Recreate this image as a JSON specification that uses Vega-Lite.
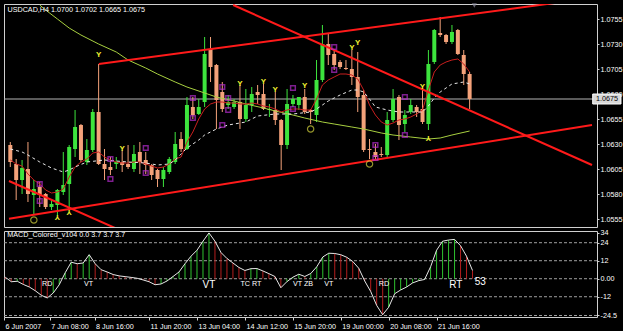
{
  "$schema": "https://vega.github.io/schema/vega-lite/v6.json",
  "background": "#000000",
  "padding": {"left": 2, "top": 2, "right": 0, "bottom": 3},
  "bounds": "flush",
  "spacing": 4,
  "config": {
    "font": "Liberation Sans",
    "view": {"stroke": "#d0d0d0", "strokeWidth": 1},
    "axis": {"labelFont": "Liberation Sans", "labelFontSize": 7.2, "labelColor": "#ffffff", "tickColor": "#d0d0d0", "domain": false, "grid": false, "title": null},
    "axisRight": {"tickSize": 2, "labelPadding": 1},
    "axisBottom": {"tickSize": 3, "labelPadding": 2}
  },
  "datasets": {
    "one": [{"k": 1}],
    "candles": [
      {"bar":0,"o":1.0629,"h":1.0632,"l":1.0607,"c":1.0612},
      {"bar":1,"o":1.0610,"h":1.0615,"l":1.0574,"c":1.0594},
      {"bar":2,"o":1.0594,"h":1.0614,"l":1.0580,"c":1.0606},
      {"bar":3,"o":1.0605,"h":1.0632,"l":1.0572,"c":1.0580},
      {"bar":4,"o":1.0579,"h":1.0594,"l":1.0559,"c":1.0585},
      {"bar":5,"o":1.0587,"h":1.0592,"l":1.0567,"c":1.0579},
      {"bar":6,"o":1.0580,"h":1.0581,"l":1.0565,"c":1.0567},
      {"bar":7,"o":1.0567,"h":1.0575,"l":1.0564,"c":1.0570},
      {"bar":8,"o":1.0569,"h":1.0585,"l":1.0559,"c":1.0584},
      {"bar":9,"o":1.0582,"h":1.0622,"l":1.0579,"c":1.0589},
      {"bar":10,"o":1.0590,"h":1.0629,"l":1.0565,"c":1.0627},
      {"bar":11,"o":1.0625,"h":1.0664,"l":1.0617,"c":1.0647},
      {"bar":12,"o":1.0649,"h":1.0650,"l":1.0612,"c":1.0614},
      {"bar":13,"o":1.0612,"h":1.0635,"l":1.0609,"c":1.0624},
      {"bar":14,"o":1.0624,"h":1.0665,"l":1.0622,"c":1.0662},
      {"bar":15,"o":1.0662,"h":1.0710,"l":1.0609,"c":1.0610},
      {"bar":16,"o":1.0610,"h":1.0625,"l":1.0594,"c":1.0605},
      {"bar":17,"o":1.0607,"h":1.0617,"l":1.0599,"c":1.0604},
      {"bar":18,"o":1.0610,"h":1.0617,"l":1.0605,"c":1.0612},
      {"bar":19,"o":1.0612,"h":1.0624,"l":1.0602,"c":1.0609},
      {"bar":20,"o":1.0610,"h":1.0629,"l":1.0605,"c":1.0607},
      {"bar":21,"o":1.0605,"h":1.0629,"l":1.0602,"c":1.0620},
      {"bar":22,"o":1.0622,"h":1.0632,"l":1.0600,"c":1.0612},
      {"bar":23,"o":1.0614,"h":1.0622,"l":1.0600,"c":1.0609},
      {"bar":24,"o":1.0609,"h":1.0610,"l":1.0594,"c":1.0599},
      {"bar":25,"o":1.0604,"h":1.0605,"l":1.0587,"c":1.0595},
      {"bar":26,"o":1.0595,"h":1.0607,"l":1.0587,"c":1.0604},
      {"bar":27,"o":1.0602,"h":1.0617,"l":1.0600,"c":1.0615},
      {"bar":28,"o":1.0612,"h":1.0642,"l":1.0610,"c":1.0630},
      {"bar":29,"o":1.0635,"h":1.0642,"l":1.0622,"c":1.0625},
      {"bar":30,"o":1.0625,"h":1.0677,"l":1.0624,"c":1.0669},
      {"bar":31,"o":1.0667,"h":1.0677,"l":1.0655,"c":1.0659},
      {"bar":32,"o":1.0660,"h":1.0675,"l":1.0659,"c":1.0667},
      {"bar":33,"o":1.0672,"h":1.0737,"l":1.0667,"c":1.0720},
      {"bar":34,"o":1.0725,"h":1.0737,"l":1.0692,"c":1.0707},
      {"bar":35,"o":1.0709,"h":1.0710,"l":1.0645,"c":1.0674},
      {"bar":36,"o":1.0682,"h":1.0692,"l":1.0662,"c":1.0665},
      {"bar":37,"o":1.0669,"h":1.0679,"l":1.0665,"c":1.0672},
      {"bar":38,"o":1.0667,"h":1.0675,"l":1.0665,"c":1.0672},
      {"bar":39,"o":1.0672,"h":1.0689,"l":1.0645,"c":1.0655},
      {"bar":40,"o":1.0655,"h":1.0685,"l":1.0652,"c":1.0669},
      {"bar":41,"o":1.0669,"h":1.0687,"l":1.0662,"c":1.0680},
      {"bar":42,"o":1.0682,"h":1.0689,"l":1.0670,"c":1.0679},
      {"bar":43,"o":1.0680,"h":1.0690,"l":1.0664,"c":1.0665},
      {"bar":44,"o":1.0664,"h":1.0670,"l":1.0657,"c":1.0665},
      {"bar":45,"o":1.0664,"h":1.0682,"l":1.0649,"c":1.0654},
      {"bar":46,"o":1.0654,"h":1.0655,"l":1.0604,"c":1.0629},
      {"bar":47,"o":1.0629,"h":1.0685,"l":1.0625,"c":1.0670},
      {"bar":48,"o":1.0670,"h":1.0679,"l":1.0667,"c":1.0675},
      {"bar":49,"o":1.0669,"h":1.0677,"l":1.0664,"c":1.0677},
      {"bar":50,"o":1.0677,"h":1.0685,"l":1.0660,"c":1.0662},
      {"bar":51,"o":1.0664,"h":1.0665,"l":1.0650,"c":1.0662},
      {"bar":52,"o":1.0659,"h":1.0714,"l":1.0652,"c":1.0694},
      {"bar":53,"o":1.0694,"h":1.0749,"l":1.0692,"c":1.0730},
      {"bar":54,"o":1.0730,"h":1.0740,"l":1.0709,"c":1.0719},
      {"bar":55,"o":1.0720,"h":1.0724,"l":1.0704,"c":1.0709},
      {"bar":56,"o":1.0712,"h":1.0714,"l":1.0705,"c":1.0707},
      {"bar":57,"o":1.0706,"h":1.0714,"l":1.0704,"c":1.0705},
      {"bar":58,"o":1.0705,"h":1.0724,"l":1.0689,"c":1.0697},
      {"bar":59,"o":1.0697,"h":1.0722,"l":1.0662,"c":1.0677},
      {"bar":60,"o":1.0679,"h":1.0684,"l":1.0622,"c":1.0624},
      {"bar":61,"o":1.0625,"h":1.0635,"l":1.0615,"c":1.0624},
      {"bar":62,"o":1.0622,"h":1.0630,"l":1.0615,"c":1.0617},
      {"bar":63,"o":1.0620,"h":1.0627,"l":1.0617,"c":1.0619},
      {"bar":64,"o":1.0619,"h":1.0662,"l":1.0617,"c":1.0654},
      {"bar":65,"o":1.0654,"h":1.0685,"l":1.0652,"c":1.0675},
      {"bar":66,"o":1.0677,"h":1.0679,"l":1.0634,"c":1.0649},
      {"bar":67,"o":1.0650,"h":1.0664,"l":1.0642,"c":1.0659},
      {"bar":68,"o":1.0662,"h":1.0675,"l":1.0660,"c":1.0669},
      {"bar":69,"o":1.0667,"h":1.0669,"l":1.0657,"c":1.0662},
      {"bar":70,"o":1.0665,"h":1.0685,"l":1.0650,"c":1.0652},
      {"bar":71,"o":1.0650,"h":1.0724,"l":1.0644,"c":1.0710},
      {"bar":72,"o":1.0712,"h":1.0745,"l":1.0710,"c":1.0744},
      {"bar":73,"o":1.0741,"h":1.0757,"l":1.0737,"c":1.0739},
      {"bar":74,"o":1.0739,"h":1.0740,"l":1.0730,"c":1.0732},
      {"bar":75,"o":1.0732,"h":1.0749,"l":1.0730,"c":1.0742},
      {"bar":76,"o":1.0744,"h":1.0745,"l":1.0719,"c":1.0720},
      {"bar":77,"o":1.0719,"h":1.0724,"l":1.0689,"c":1.0700},
      {"bar":78,"o":1.0700,"h":1.0702,"l":1.0665,"c":1.0675}
    ],
    "maSlow": [
      {"bar":5,"price":1.0769},{"bar":6,"price":1.0764},{"bar":8,"price":1.0755},{"bar":10,"price":1.0746},
      {"bar":12,"price":1.0739},{"bar":15,"price":1.0730},{"bar":18,"price":1.0722},{"bar":20,"price":1.0714},
      {"bar":23,"price":1.0706},{"bar":25,"price":1.0700},{"bar":28,"price":1.0692},{"bar":30,"price":1.0687},
      {"bar":33,"price":1.0681},{"bar":35,"price":1.0677},{"bar":38,"price":1.0673},{"bar":40,"price":1.0670},
      {"bar":43,"price":1.0666},{"bar":45,"price":1.0663},{"bar":48,"price":1.0659},{"bar":50,"price":1.0656},
      {"bar":53,"price":1.0652},{"bar":55,"price":1.0650},{"bar":58,"price":1.0647},{"bar":60,"price":1.0645},
      {"bar":63,"price":1.0641},{"bar":65,"price":1.0639},{"bar":68,"price":1.0637},{"bar":71,"price":1.0635},
      {"bar":73,"price":1.0636},{"bar":75,"price":1.0639},{"bar":78,"price":1.0643}
    ],
    "maFast": [
      {"bar":0,"price":1.0614},{"bar":1,"price":1.0610},{"bar":2,"price":1.0608},{"bar":3,"price":1.0600},
      {"bar":4,"price":1.0594},{"bar":5,"price":1.0590},{"bar":6,"price":1.0584},{"bar":7,"price":1.0581},
      {"bar":8,"price":1.0582},{"bar":9,"price":1.0585},{"bar":10,"price":1.0597},{"bar":11,"price":1.0607},
      {"bar":12,"price":1.0612},{"bar":13,"price":1.0615},{"bar":14,"price":1.0621},{"bar":15,"price":1.0622},
      {"bar":16,"price":1.0617},{"bar":17,"price":1.0614},{"bar":18,"price":1.0612},{"bar":19,"price":1.0611},
      {"bar":20,"price":1.0611},{"bar":21,"price":1.0612},{"bar":22,"price":1.0612},{"bar":23,"price":1.0610},
      {"bar":24,"price":1.0608},{"bar":25,"price":1.0606},{"bar":26,"price":1.0607},{"bar":27,"price":1.0610},
      {"bar":28,"price":1.0615},{"bar":29,"price":1.0617},{"bar":30,"price":1.0632},{"bar":31,"price":1.0642},
      {"bar":32,"price":1.0655},{"bar":33,"price":1.0665},{"bar":34,"price":1.0670},{"bar":35,"price":1.0672},
      {"bar":36,"price":1.0672},{"bar":37,"price":1.0671},{"bar":38,"price":1.0671},{"bar":39,"price":1.0670},
      {"bar":40,"price":1.0670},{"bar":41,"price":1.0671},{"bar":42,"price":1.0670},{"bar":43,"price":1.0668},
      {"bar":44,"price":1.0667},{"bar":45,"price":1.0665},{"bar":46,"price":1.0662},{"bar":47,"price":1.0664},
      {"bar":48,"price":1.0665},{"bar":49,"price":1.0665},{"bar":50,"price":1.0664},{"bar":51,"price":1.0664},
      {"bar":52,"price":1.0675},{"bar":53,"price":1.0689},{"bar":54,"price":1.0694},{"bar":55,"price":1.0697},
      {"bar":56,"price":1.0700},{"bar":57,"price":1.0700},{"bar":58,"price":1.0699},{"bar":59,"price":1.0695},
      {"bar":60,"price":1.0684},{"bar":61,"price":1.0669},{"bar":62,"price":1.0659},{"bar":63,"price":1.0652},
      {"bar":64,"price":1.0649},{"bar":65,"price":1.0651},{"bar":66,"price":1.0654},{"bar":67,"price":1.0655},
      {"bar":68,"price":1.0657},{"bar":69,"price":1.0660},{"bar":70,"price":1.0664},{"bar":71,"price":1.0684},
      {"bar":72,"price":1.0702},{"bar":73,"price":1.0709},{"bar":74,"price":1.0712},{"bar":75,"price":1.0714},
      {"bar":76,"price":1.0715},{"bar":77,"price":1.0710},{"bar":78,"price":1.0702}
    ],
    "maMid": [
      {"bar":0,"price":1.0625},{"bar":2,"price":1.0622},{"bar":3,"price":1.0619},{"bar":5,"price":1.0612},
      {"bar":7,"price":1.0606},{"bar":8,"price":1.0604},{"bar":9,"price":1.0602},{"bar":10,"price":1.0604},
      {"bar":11,"price":1.0607},{"bar":13,"price":1.0612},{"bar":16,"price":1.0614},{"bar":20,"price":1.0612},
      {"bar":23,"price":1.0611},{"bar":25,"price":1.0609},{"bar":27,"price":1.0610},{"bar":28,"price":1.0614},
      {"bar":29,"price":1.0620},{"bar":30,"price":1.0626},{"bar":31,"price":1.0630},{"bar":32,"price":1.0634},
      {"bar":33,"price":1.0639},{"bar":34,"price":1.0642},{"bar":35,"price":1.0645},{"bar":37,"price":1.0649},
      {"bar":40,"price":1.0652},{"bar":42,"price":1.0658},{"bar":45,"price":1.0660},{"bar":48,"price":1.0660},
      {"bar":51,"price":1.0662},{"bar":52,"price":1.0665},{"bar":53,"price":1.0669},{"bar":54,"price":1.0673},
      {"bar":55,"price":1.0676},{"bar":56,"price":1.0679},{"bar":58,"price":1.0684},{"bar":59,"price":1.0684},
      {"bar":60,"price":1.0682},{"bar":61,"price":1.0675},{"bar":62,"price":1.0667},{"bar":64,"price":1.0664},
      {"bar":66,"price":1.0662},{"bar":70,"price":1.0662},{"bar":71,"price":1.0668},{"bar":72,"price":1.0676},
      {"bar":73,"price":1.0682},{"bar":74,"price":1.0686},{"bar":75,"price":1.0690},{"bar":76,"price":1.0691},
      {"bar":77,"price":1.0692},{"bar":78,"price":1.0690}
    ],
    "trendlines": [
      {"id":"upper","bar":15.04,"price":1.0710},{"id":"upper","bar":98.78,"price":1.0776},
      {"id":"lower","bar":-0.22,"price":1.05553},{"id":"lower","bar":98.78,"price":1.0649},
      {"id":"down","bar":37.84,"price":1.0769},{"id":"down","bar":98.78,"price":1.0609},
      {"id":"downLeft","bar":-0.22,"price":1.0593},{"id":"downLeft","bar":17.8,"price":1.0546}
    ],
    "upFractals": [
      {"bar":15,"price":1.0719},{"bar":19,"price":1.0625},{"bar":39,"price":1.0690},{"bar":43,"price":1.0692},
      {"bar":45,"price":1.0684},{"bar":50,"price":1.0688},{"bar":58,"price":1.0726},{"bar":59,"price":1.0731},
      {"bar":70,"price":1.0687}
    ],
    "downFractals": [
      {"bar":8,"price":1.0557},{"bar":10,"price":1.0562},{"bar":71,"price":1.0636}
    ],
    "circles": [
      {"bar":4,"price":1.0554},{"bar":51,"price":1.0645},{"bar":61,"price":1.0610}
    ],
    "squares": [
      {"bar":5,"price":1.0590},{"bar":5,"price":1.0573},{"bar":17,"price":1.0615},{"bar":17,"price":1.0595},
      {"bar":23,"price":1.0626},{"bar":23,"price":1.0601},{"bar":31,"price":1.0676},{"bar":31,"price":1.0656},
      {"bar":36,"price":1.0687},{"bar":36,"price":1.0649},{"bar":37,"price":1.0676},{"bar":37,"price":1.0664},
      {"bar":48,"price":1.0686},{"bar":48,"price":1.0665},{"bar":55,"price":1.0727},{"bar":55,"price":1.0704},
      {"bar":62,"price":1.0629},{"bar":62,"price":1.0616},{"bar":67,"price":1.0677},{"bar":67,"price":1.0639}
    ],
    "macd": [
      {"bar":0,"v":1,"t":"down"},{"bar":1,"v":-2,"t":"down"},{"bar":2,"v":-1.7,"t":"up"},{"bar":3,"v":-3.8,"t":"down"},
      {"bar":4,"v":-5.5,"t":"down"},{"bar":5,"v":-8,"t":"down"},{"bar":6,"v":-11,"t":"down"},{"bar":7,"v":-12.8,"t":"down"},
      {"bar":8,"v":-9.5,"t":"up"},{"bar":9,"v":-4,"t":"up"},{"bar":10,"v":4,"t":"up"},{"bar":11,"v":11,"t":"up"},
      {"bar":12,"v":10,"t":"down"},{"bar":13,"v":10.5,"t":"up"},{"bar":14,"v":16,"t":"up"},{"bar":15,"v":10,"t":"down"},
      {"bar":16,"v":6,"t":"down"},{"bar":17,"v":4.5,"t":"down"},{"bar":18,"v":2.8,"t":"down"},{"bar":19,"v":1.9,"t":"down"},
      {"bar":20,"v":1.4,"t":"down"},{"bar":21,"v":0.9,"t":"down"},{"bar":22,"v":0.3,"t":"down"},{"bar":23,"v":-0.8,"t":"down"},
      {"bar":24,"v":-2,"t":"down"},{"bar":25,"v":-4,"t":"down"},{"bar":26,"v":-3.5,"t":"up"},{"bar":27,"v":-1.5,"t":"up"},
      {"bar":28,"v":1.5,"t":"up"},{"bar":29,"v":4.5,"t":"up"},{"bar":30,"v":10,"t":"up"},{"bar":31,"v":15,"t":"up"},
      {"bar":32,"v":19,"t":"up"},{"bar":33,"v":25,"t":"up"},{"bar":34,"v":30.5,"t":"up"},{"bar":35,"v":25,"t":"down"},
      {"bar":36,"v":17.5,"t":"down"},{"bar":37,"v":13.5,"t":"down"},{"bar":38,"v":10.5,"t":"down"},{"bar":39,"v":7.5,"t":"down"},
      {"bar":40,"v":5.5,"t":"down"},{"bar":41,"v":6.7,"t":"up"},{"bar":42,"v":6.8,"t":"up"},{"bar":43,"v":5.2,"t":"down"},
      {"bar":44,"v":3.4,"t":"down"},{"bar":45,"v":1.5,"t":"down"},{"bar":46,"v":-6,"t":"down"},{"bar":47,"v":-2,"t":"up"},
      {"bar":48,"v":1,"t":"up"},{"bar":49,"v":3,"t":"up"},{"bar":50,"v":1.5,"t":"down"},{"bar":51,"v":3.5,"t":"up"},
      {"bar":52,"v":8,"t":"up"},{"bar":53,"v":14.5,"t":"up"},{"bar":54,"v":17,"t":"up"},{"bar":55,"v":16.8,"t":"down"},
      {"bar":56,"v":16,"t":"down"},{"bar":57,"v":14.3,"t":"down"},{"bar":58,"v":11.5,"t":"down"},{"bar":59,"v":7,"t":"down"},
      {"bar":60,"v":-1.5,"t":"down"},{"bar":61,"v":-8.5,"t":"down"},{"bar":62,"v":-17.8,"t":"down"},{"bar":63,"v":-24,"t":"down"},
      {"bar":64,"v":-19,"t":"up"},{"bar":65,"v":-10,"t":"up"},{"bar":66,"v":-7.5,"t":"up"},{"bar":67,"v":-5.5,"t":"up"},
      {"bar":68,"v":-2.8,"t":"up"},{"bar":69,"v":-1.3,"t":"up"},{"bar":70,"v":-0.5,"t":"up"},{"bar":71,"v":8,"t":"up"},
      {"bar":72,"v":19,"t":"up"},{"bar":73,"v":25,"t":"up"},{"bar":74,"v":25.8,"t":"up"},{"bar":75,"v":26.2,"t":"up"},
      {"bar":76,"v":22,"t":"down"},{"bar":77,"v":15,"t":"down"},{"bar":78,"v":5.5,"t":"down"}
    ],
    "levels": [{"lvl":24},{"lvl":12},{"lvl":0},{"lvl":-12},{"lvl":-24.5}],
    "tagsSmall": [
      {"bar":7,"v":-3.5,"tag":"RD"},{"bar":13.9,"v":-3.5,"tag":"VT"},{"bar":41,"v":-3.5,"tag":"TC RT"},
      {"bar":49.7,"v":-3.5,"tag":"VT ZB"},{"bar":54,"v":-3.5,"tag":"VT"},{"bar":63.2,"v":-3.5,"tag":"RD"}
    ],
    "tagsLarge": [
      {"bar":34,"v":-4.2,"tag":"VT"},{"bar":75.2,"v":-4.2,"tag":"RT"},{"bar":79.3,"v":-2,"tag":"53"}
    ]
  },
  "vconcat": [
    {
      "width": 593,
      "height": 223,
      "title": {"text": "USDCAD,H4 1.0700 1.0702 1.0665 1.0675", "anchor": "start", "offset": -10, "dx": 4, "fontSize": 7.2, "fontWeight": "normal", "color": "#ffffff", "font": "Liberation Sans"},
      "layer": [
        {
          "data": {"name": "one"},
          "mark": {"type": "rule", "color": "#b4b4b4", "strokeWidth": 1},
          "encoding": {
            "y": {"datum": 1.0675, "type": "quantitative", "scale": {"domain": [1.0547, 1.0770], "nice": false, "zero": false},
              "axis": {"orient": "right", "values": [1.0555, 1.0580, 1.0605, 1.0630, 1.0655, 1.0680, 1.0705, 1.0730, 1.0755], "format": ".4f"}}
          }
        },
        {
          "data": {"name": "candles"},
          "mark": {"type": "rule", "strokeWidth": 1},
          "encoding": {
            "x": {"field": "bar", "type": "quantitative", "scale": {"domain": [-0.22, 98.78], "nice": false, "zero": false}, "axis": null},
            "y": {"field": "l", "type": "quantitative", "scale": {"domain": [1.0547, 1.0770], "nice": false, "zero": false},
              "axis": {"orient": "right", "values": [1.0555, 1.0580, 1.0605, 1.0630, 1.0655, 1.0680, 1.0705, 1.0730, 1.0755], "format": ".4f"}},
            "y2": {"field": "h"},
            "color": {"condition": {"test": "datum.c >= datum.o", "value": "#3de43d"}, "value": "#f4a27a"}
          }
        },
        {
          "data": {"name": "candles"},
          "mark": {"type": "bar", "width": 4},
          "encoding": {
            "x": {"field": "bar", "type": "quantitative", "scale": {"domain": [-0.22, 98.78], "nice": false, "zero": false}, "axis": null},
            "y": {"field": "o", "type": "quantitative", "scale": {"domain": [1.0547, 1.0770], "nice": false, "zero": false},
              "axis": {"orient": "right", "values": [1.0555, 1.0580, 1.0605, 1.0630, 1.0655, 1.0680, 1.0705, 1.0730, 1.0755], "format": ".4f"}},
            "y2": {"field": "c"},
            "color": {"condition": {"test": "datum.c >= datum.o", "value": "#3de43d"}, "value": "#f4a27a"}
          }
        },
        {
          "data": {"name": "maSlow"},
          "mark": {"type": "line", "color": "#a8d040", "strokeWidth": 1, "clip": true},
          "encoding": {
            "x": {"field": "bar", "type": "quantitative", "scale": {"domain": [-0.22, 98.78], "nice": false, "zero": false}, "axis": null},
            "y": {"field": "price", "type": "quantitative", "scale": {"domain": [1.0547, 1.0770], "nice": false, "zero": false},
              "axis": {"orient": "right", "values": [1.0555, 1.0580, 1.0605, 1.0630, 1.0655, 1.0680, 1.0705, 1.0730, 1.0755], "format": ".4f"}}
          }
        },
        {
          "data": {"name": "maFast"},
          "mark": {"type": "line", "color": "#c81e1e", "strokeWidth": 1, "clip": true},
          "encoding": {
            "x": {"field": "bar", "type": "quantitative", "scale": {"domain": [-0.22, 98.78], "nice": false, "zero": false}, "axis": null},
            "y": {"field": "price", "type": "quantitative", "scale": {"domain": [1.0547, 1.0770], "nice": false, "zero": false},
              "axis": {"orient": "right", "values": [1.0555, 1.0580, 1.0605, 1.0630, 1.0655, 1.0680, 1.0705, 1.0730, 1.0755], "format": ".4f"}}
          }
        },
        {
          "data": {"name": "maMid"},
          "mark": {"type": "line", "color": "#e8e8e8", "strokeWidth": 1, "strokeDash": [3, 3], "clip": true},
          "encoding": {
            "x": {"field": "bar", "type": "quantitative", "scale": {"domain": [-0.22, 98.78], "nice": false, "zero": false}, "axis": null},
            "y": {"field": "price", "type": "quantitative", "scale": {"domain": [1.0547, 1.0770], "nice": false, "zero": false},
              "axis": {"orient": "right", "values": [1.0555, 1.0580, 1.0605, 1.0630, 1.0655, 1.0680, 1.0705, 1.0730, 1.0755], "format": ".4f"}}
          }
        },
        {
          "data": {"name": "trendlines"},
          "mark": {"type": "line", "color": "#ff1a1a", "strokeWidth": 2, "clip": true},
          "encoding": {
            "x": {"field": "bar", "type": "quantitative", "scale": {"domain": [-0.22, 98.78], "nice": false, "zero": false}, "axis": null},
            "y": {"field": "price", "type": "quantitative", "scale": {"domain": [1.0547, 1.0770], "nice": false, "zero": false},
              "axis": {"orient": "right", "values": [1.0555, 1.0580, 1.0605, 1.0630, 1.0655, 1.0680, 1.0705, 1.0730, 1.0755], "format": ".4f"}},
            "detail": {"field": "id"}
          }
        },
        {
          "data": {"name": "upFractals"},
          "mark": {"type": "text", "text": "Y", "color": "#f0f030", "fontSize": 8, "fontWeight": "bold", "baseline": "middle", "align": "center"},
          "encoding": {
            "x": {"field": "bar", "type": "quantitative", "scale": {"domain": [-0.22, 98.78], "nice": false, "zero": false}, "axis": null},
            "y": {"field": "price", "type": "quantitative", "scale": {"domain": [1.0547, 1.0770], "nice": false, "zero": false},
              "axis": {"orient": "right", "values": [1.0555, 1.0580, 1.0605, 1.0630, 1.0655, 1.0680, 1.0705, 1.0730, 1.0755], "format": ".4f"}}
          }
        },
        {
          "data": {"name": "downFractals"},
          "mark": {"type": "text", "text": "Y", "angle": 180, "color": "#f0f030", "fontSize": 8, "fontWeight": "bold", "baseline": "middle", "align": "center"},
          "encoding": {
            "x": {"field": "bar", "type": "quantitative", "scale": {"domain": [-0.22, 98.78], "nice": false, "zero": false}, "axis": null},
            "y": {"field": "price", "type": "quantitative", "scale": {"domain": [1.0547, 1.0770], "nice": false, "zero": false},
              "axis": {"orient": "right", "values": [1.0555, 1.0580, 1.0605, 1.0630, 1.0655, 1.0680, 1.0705, 1.0730, 1.0755], "format": ".4f"}}
          }
        },
        {
          "data": {"name": "circles"},
          "mark": {"type": "point", "shape": "circle", "filled": false, "size": 40, "stroke": "#d2d23c", "strokeWidth": 1.2},
          "encoding": {
            "x": {"field": "bar", "type": "quantitative", "scale": {"domain": [-0.22, 98.78], "nice": false, "zero": false}, "axis": null},
            "y": {"field": "price", "type": "quantitative", "scale": {"domain": [1.0547, 1.0770], "nice": false, "zero": false},
              "axis": {"orient": "right", "values": [1.0555, 1.0580, 1.0605, 1.0630, 1.0655, 1.0680, 1.0705, 1.0730, 1.0755], "format": ".4f"}}
          }
        },
        {
          "data": {"name": "squares"},
          "mark": {"type": "point", "shape": "square", "filled": false, "size": 22, "stroke": "#b42ccc", "strokeWidth": 1.5},
          "encoding": {
            "x": {"field": "bar", "type": "quantitative", "scale": {"domain": [-0.22, 98.78], "nice": false, "zero": false}, "axis": null},
            "y": {"field": "price", "type": "quantitative", "scale": {"domain": [1.0547, 1.0770], "nice": false, "zero": false},
              "axis": {"orient": "right", "values": [1.0555, 1.0580, 1.0605, 1.0630, 1.0655, 1.0680, 1.0705, 1.0730, 1.0755], "format": ".4f"}}
          }
        },
        {
          "data": {"name": "one"},
          "mark": {"type": "point", "shape": "triangle-down", "filled": true, "size": 25, "color": "#8c8c9c"},
          "encoding": {
            "x": {"datum": 78.8, "type": "quantitative", "scale": {"domain": [-0.22, 98.78], "nice": false, "zero": false}, "axis": null},
            "y": {"datum": 1.07685, "type": "quantitative", "scale": {"domain": [1.0547, 1.0770], "nice": false, "zero": false},
              "axis": {"orient": "right", "values": [1.0555, 1.0580, 1.0605, 1.0630, 1.0655, 1.0680, 1.0705, 1.0730, 1.0755], "format": ".4f"}}
          }
        },
        {
          "data": {"name": "one"},
          "mark": {"type": "rect", "fill": "#d8d8d8", "stroke": "#ffffff", "strokeWidth": 1},
          "encoding": {
            "x": {"datum": 98.9, "type": "quantitative", "scale": {"domain": [-0.22, 98.78], "nice": false, "zero": false}, "axis": null},
            "x2": {"datum": 103.7},
            "y": {"datum": 1.0680, "type": "quantitative", "scale": {"domain": [1.0547, 1.0770], "nice": false, "zero": false},
              "axis": {"orient": "right", "values": [1.0555, 1.0580, 1.0605, 1.0630, 1.0655, 1.0680, 1.0705, 1.0730, 1.0755], "format": ".4f"}},
            "y2": {"datum": 1.0670}
          }
        },
        {
          "data": {"name": "one"},
          "mark": {"type": "text", "text": "1.0675", "color": "#000000", "fontSize": 7.2, "align": "left", "baseline": "middle", "dx": 4},
          "encoding": {
            "x": {"datum": 98.78, "type": "quantitative", "scale": {"domain": [-0.22, 98.78], "nice": false, "zero": false}, "axis": null},
            "y": {"datum": 1.0675, "type": "quantitative", "scale": {"domain": [1.0547, 1.0770], "nice": false, "zero": false},
              "axis": {"orient": "right", "values": [1.0555, 1.0580, 1.0605, 1.0630, 1.0655, 1.0680, 1.0705, 1.0730, 1.0755], "format": ".4f"}}
          }
        }
      ]
    },
    {
      "width": 593,
      "height": 86,
      "title": {"text": "MACD_Colored_v104 0.0 3.7 3.7 3.7", "anchor": "start", "offset": -10, "dx": 4, "fontSize": 7.2, "fontWeight": "normal", "color": "#ffffff", "font": "Liberation Sans"},
      "layer": [
        {
          "data": {"name": "levels"},
          "mark": {"type": "rule", "color": "#a0a0a0", "strokeWidth": 1, "strokeDash": [3, 2]},
          "encoding": {
            "y": {"field": "lvl", "type": "quantitative", "scale": {"domain": [-25.5, 31.8], "nice": false, "zero": false},
              "axis": {"orient": "right", "values": [30.7, 24, 12, 0, -12, -24.5], "labelExpr": "datum.value > 30 ? '34' : datum.value == 0 ? '0.00' : toString(datum.value)"}}
          }
        },
        {
          "data": {"name": "macd"},
          "mark": {"type": "rule", "strokeWidth": 1},
          "encoding": {
            "x": {"field": "bar", "type": "quantitative", "scale": {"domain": [-0.22, 98.78], "nice": false, "zero": false},
              "axis": {"orient": "bottom", "values": [-0.2, 7.4, 14.9, 24, 32, 40, 48, 56, 64, 72], "labelAlign": "left", "labelOffset": 1, "labelOverlap": false, "labelFlush": false, "labelBound": false,
                "labelExpr": "datum.value < 1 ? '6 Jun 2007' : datum.value < 10 ? '7 Jun 08:00' : datum.value < 20 ? '8 Jun 16:00' : datum.value < 28 ? '11 Jun 20:00' : datum.value < 36 ? '13 Jun 04:00' : datum.value < 44 ? '14 Jun 12:00' : datum.value < 52 ? '15 Jun 20:00' : datum.value < 60 ? '19 Jun 00:00' : datum.value < 68 ? '20 Jun 08:00' : '21 Jun 16:00'"}},
            "y": {"field": "v", "type": "quantitative", "scale": {"domain": [-25.5, 31.8], "nice": false, "zero": false},
              "axis": {"orient": "right", "values": [30.7, 24, 12, 0, -12, -24.5], "labelExpr": "datum.value > 30 ? '34' : datum.value == 0 ? '0.00' : toString(datum.value)"}},
            "y2": {"datum": 0},
            "color": {"condition": {"test": "datum.t == 'up'", "value": "#2fc22f"}, "value": "#b41e1e"}
          }
        },
        {
          "data": {"name": "macd"},
          "mark": {"type": "line", "color": "#e8e8e8", "strokeWidth": 1},
          "encoding": {
            "x": {"field": "bar", "type": "quantitative", "scale": {"domain": [-0.22, 98.78], "nice": false, "zero": false},
              "axis": {"orient": "bottom", "values": [-0.2, 7.4, 14.9, 24, 32, 40, 48, 56, 64, 72], "labelAlign": "left", "labelOffset": 1, "labelOverlap": false, "labelFlush": false, "labelBound": false,
                "labelExpr": "datum.value < 1 ? '6 Jun 2007' : datum.value < 10 ? '7 Jun 08:00' : datum.value < 20 ? '8 Jun 16:00' : datum.value < 28 ? '11 Jun 20:00' : datum.value < 36 ? '13 Jun 04:00' : datum.value < 44 ? '14 Jun 12:00' : datum.value < 52 ? '15 Jun 20:00' : datum.value < 60 ? '19 Jun 00:00' : datum.value < 68 ? '20 Jun 08:00' : '21 Jun 16:00'"}},
            "y": {"field": "v", "type": "quantitative", "scale": {"domain": [-25.5, 31.8], "nice": false, "zero": false},
              "axis": {"orient": "right", "values": [30.7, 24, 12, 0, -12, -24.5], "labelExpr": "datum.value > 30 ? '34' : datum.value == 0 ? '0.00' : toString(datum.value)"}}
          }
        },
        {
          "data": {"name": "tagsSmall"},
          "mark": {"type": "text", "color": "#ffffff", "fontSize": 7.2, "align": "center", "baseline": "middle"},
          "encoding": {
            "x": {"field": "bar", "type": "quantitative", "scale": {"domain": [-0.22, 98.78], "nice": false, "zero": false},
              "axis": {"orient": "bottom", "values": [-0.2, 7.4, 14.9, 24, 32, 40, 48, 56, 64, 72], "labelAlign": "left", "labelOffset": 1, "labelOverlap": false, "labelFlush": false, "labelBound": false,
                "labelExpr": "datum.value < 1 ? '6 Jun 2007' : datum.value < 10 ? '7 Jun 08:00' : datum.value < 20 ? '8 Jun 16:00' : datum.value < 28 ? '11 Jun 20:00' : datum.value < 36 ? '13 Jun 04:00' : datum.value < 44 ? '14 Jun 12:00' : datum.value < 52 ? '15 Jun 20:00' : datum.value < 60 ? '19 Jun 00:00' : datum.value < 68 ? '20 Jun 08:00' : '21 Jun 16:00'"}},
            "y": {"field": "v", "type": "quantitative", "scale": {"domain": [-25.5, 31.8], "nice": false, "zero": false},
              "axis": {"orient": "right", "values": [30.7, 24, 12, 0, -12, -24.5], "labelExpr": "datum.value > 30 ? '34' : datum.value == 0 ? '0.00' : toString(datum.value)"}},
            "text": {"field": "tag"}
          }
        },
        {
          "data": {"name": "tagsLarge"},
          "mark": {"type": "text", "color": "#ffffff", "fontSize": 10, "align": "center", "baseline": "middle"},
          "encoding": {
            "x": {"field": "bar", "type": "quantitative", "scale": {"domain": [-0.22, 98.78], "nice": false, "zero": false},
              "axis": {"orient": "bottom", "values": [-0.2, 7.4, 14.9, 24, 32, 40, 48, 56, 64, 72], "labelAlign": "left", "labelOffset": 1, "labelOverlap": false, "labelFlush": false, "labelBound": false,
                "labelExpr": "datum.value < 1 ? '6 Jun 2007' : datum.value < 10 ? '7 Jun 08:00' : datum.value < 20 ? '8 Jun 16:00' : datum.value < 28 ? '11 Jun 20:00' : datum.value < 36 ? '13 Jun 04:00' : datum.value < 44 ? '14 Jun 12:00' : datum.value < 52 ? '15 Jun 20:00' : datum.value < 60 ? '19 Jun 00:00' : datum.value < 68 ? '20 Jun 08:00' : '21 Jun 16:00'"}},
            "y": {"field": "v", "type": "quantitative", "scale": {"domain": [-25.5, 31.8], "nice": false, "zero": false},
              "axis": {"orient": "right", "values": [30.7, 24, 12, 0, -12, -24.5], "labelExpr": "datum.value > 30 ? '34' : datum.value == 0 ? '0.00' : toString(datum.value)"}},
            "text": {"field": "tag"}
          }
        }
      ]
    }
  ]
}
